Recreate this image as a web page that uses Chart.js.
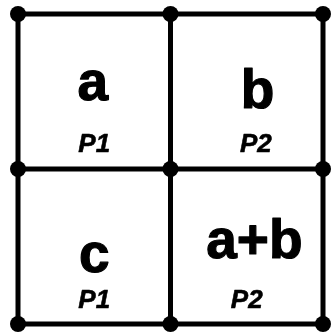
<!DOCTYPE html>
<html>
<head>
<meta charset="utf-8">
<script src="https://cdn.jsdelivr.net/npm/chart.js@4"></script>
<style>
  html, body { margin: 0; padding: 0; background: #fff; }
  #wrap { width: 331px; height: 333px; }
</style>
</head>
<body>
<div id="wrap"><canvas id="c"></canvas></div>
<script>
/* grid: 2x2 cells, nodes at every intersection */
var gridX = [0, 1, 2];
var gridY = [0, 1, 2];

/* cell labels (data coords: x 0..2 left->right, y 0..2 bottom->top) */
var bigText = ["a", "b", "c", "a+b"];
var bigX = [0.49, 1.57, 0.50, 1.55];
var bigY = [1.445, 1.394, 0.335, 0.426];

var subText = ["P1", "P2", "P1", "P2"];
var subX = [0.50, 1.56, 0.50, 1.50];
var subY = [1.11, 1.11, 0.103, 0.103];

var nodes = [];
gridY.forEach(function(y) {
  gridX.forEach(function(x) { nodes.push({ x: x, y: y }); });
});

var lines = [];
gridY.forEach(function(y) {
  lines.push([{ x: gridX[0], y: y }, { x: gridX[gridX.length - 1], y: y }]);
});
gridX.forEach(function(x) {
  lines.push([{ x: x, y: gridY[0] }, { x: x, y: gridY[gridY.length - 1] }]);
});

var datasets = lines.map(function(seg) {
  return {
    type: "line",
    data: seg,
    borderColor: "#000",
    borderWidth: 5,
    pointRadius: 0,
    fill: false,
    clip: false,
    order: 2
  };
});

datasets.push({
  type: "scatter",
  data: nodes,
  backgroundColor: "#000",
  borderWidth: 0,
  pointRadius: 8,
  clip: false,
  order: 1
});

var labelPlugin = {
  id: "cellLabels",
  afterDatasetsDraw: function(ch) {
    var c = ch.ctx, sx = ch.scales.x, sy = ch.scales.y;
    c.save();
    c.fillStyle = "#000";
    c.strokeStyle = "#000";
    c.lineJoin = "round";
    c.textAlign = "center";
    c.textBaseline = "alphabetic";
    c.font = "bold 55px 'Liberation Sans', Arial, sans-serif";
    c.lineWidth = 1.2;
    bigText.forEach(function(t, i) {
      var px = sx.getPixelForValue(bigX[i]), py = sy.getPixelForValue(bigY[i]);
      c.fillText(t, px, py);
      c.strokeText(t, px, py);
    });
    c.font = "italic bold 26px 'Liberation Sans', Arial, sans-serif";
    c.lineWidth = 0.6;
    subText.forEach(function(t, i) {
      var px = sx.getPixelForValue(subX[i]), py = sy.getPixelForValue(subY[i]);
      c.fillText(t, px, py);
      c.strokeText(t, px, py);
    });
    c.restore();
  }
};

new Chart(document.getElementById("c"), {
  type: "scatter",
  data: { datasets: datasets },
  options: {
    responsive: true,
    maintainAspectRatio: false,
    animation: false,
    layout: { padding: { left: 18, right: 3, top: 14, bottom: 9 } },
    scales: {
      x: { type: "linear", min: 0, max: 2, display: false },
      y: { type: "linear", min: 0, max: 2, display: false }
    },
    plugins: {
      legend: { display: false },
      tooltip: { enabled: false }
    }
  },
  plugins: [labelPlugin]
});
</script>
</body>
</html>
